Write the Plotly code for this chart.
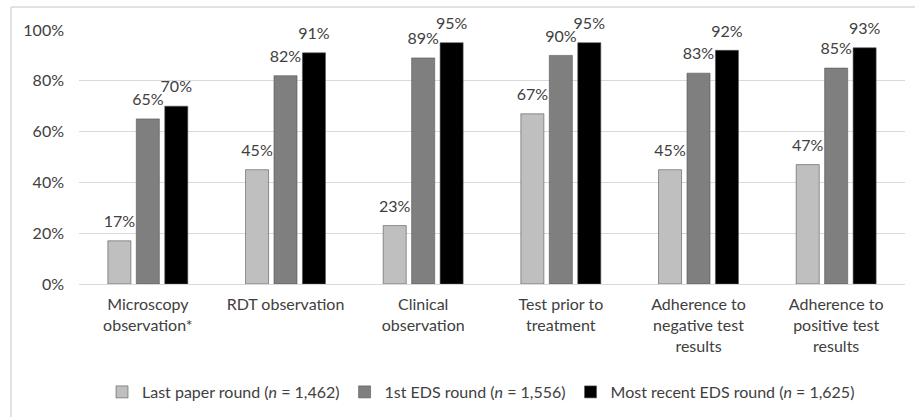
import plotly.graph_objects as go

categories = ["Microscopy<br>observation*", "RDT observation", "Clinical<br>observation",
              "Test prior to<br>treatment", "Adherence to<br>negative test<br>results",
              "Adherence to<br>positive test<br>results"]
last_paper = [17, 45, 23, 67, 45, 47]
first_eds = [65, 82, 89, 90, 83, 85]
recent_eds = [70, 91, 95, 95, 92, 93]
series_names = ["Last paper round (<i>n</i> = 1,462)",
                "1st EDS round (<i>n</i> = 1,556)",
                "Most recent EDS round (<i>n</i> = 1,625)"]
colors = ["#bfbfbf", "#7f7f7f", "#000000"]
y_ticks = [0, 20, 40, 60, 80, 100]

FONT = "Lato, sans-serif"
FS = 16
TXT = "#404040"

fig = go.Figure()
for i, (name, vals, col) in enumerate(zip(series_names, [last_paper, first_eds, recent_eds], colors)):
    fig.add_trace(go.Bar(
        x=categories, y=vals, name=name, offsetgroup=str(i),
        marker=dict(color=col, line=dict(color="#555555", width=0.6)),
        hoverinfo="skip",
    ))
for i, vals in enumerate([last_paper, first_eds, recent_eds]):
    fig.add_trace(go.Scatter(
        x=categories, y=vals, offsetgroup=str(i), mode="markers+text",
        marker=dict(size=14, opacity=0, color="white"),
        text=[f"{v}%" for v in vals], textposition="top center",
        textfont=dict(size=FS, color=TXT, family=FONT),
        showlegend=False, cliponaxis=False, hoverinfo="skip",
    ))

W, H = 915, 417
L, R, T, B = 79, 10, 30, 133
pw, ph = W - L - R, H - T - B

def px(x):
    return (x - L) / pw

def py(y):
    return (H - B - y) / ph

fig.update_layout(
    width=W, height=H,
    margin=dict(l=L, r=R, t=T, b=B, autoexpand=False),
    paper_bgcolor="white", plot_bgcolor="white",
    barmode="group", bargap=0.38, bargroupgap=0.19,
    scattermode="group", scattergap=0.38,
    font=dict(family=FONT, size=FS, color=TXT),
    showlegend=True,
    legend=dict(orientation="h", x=px(481), xanchor="center", y=py(392), yanchor="middle",
                font=dict(size=FS, color=TXT, family=FONT),
                itemwidth=30, tracegroupgap=0, traceorder="normal"),
)
fig.update_yaxes(range=[0, 100], tickvals=y_ticks, ticktext=[f"{v}%" for v in y_ticks],
                 showgrid=True, gridcolor="#d9d9d9", gridwidth=1, zeroline=False,
                 showline=False, ticks="", ticklabelstandoff=14,
                 tickfont=dict(size=FS, color=TXT, family=FONT))
fig.update_xaxes(showgrid=False, showline=True, linecolor="#d9d9d9", linewidth=1,
                 ticks="", tickfont=dict(size=FS, color=TXT, family=FONT),
                 ticklabelstandoff=6)

fig.add_shape(type="line", xref="paper", yref="paper", x0=px(11), x1=px(915), y0=py(7), y1=py(7),
              line=dict(color="#d9d9d9", width=1.5))
fig.add_shape(type="line", xref="paper", yref="paper", x0=px(11), x1=px(11), y0=py(7), y1=py(417),
              line=dict(color="#d9d9d9", width=1.5))

fig.write_html("out.html", config={"displayModeBar": False},
               post_script="document.body.style.margin='0';")
